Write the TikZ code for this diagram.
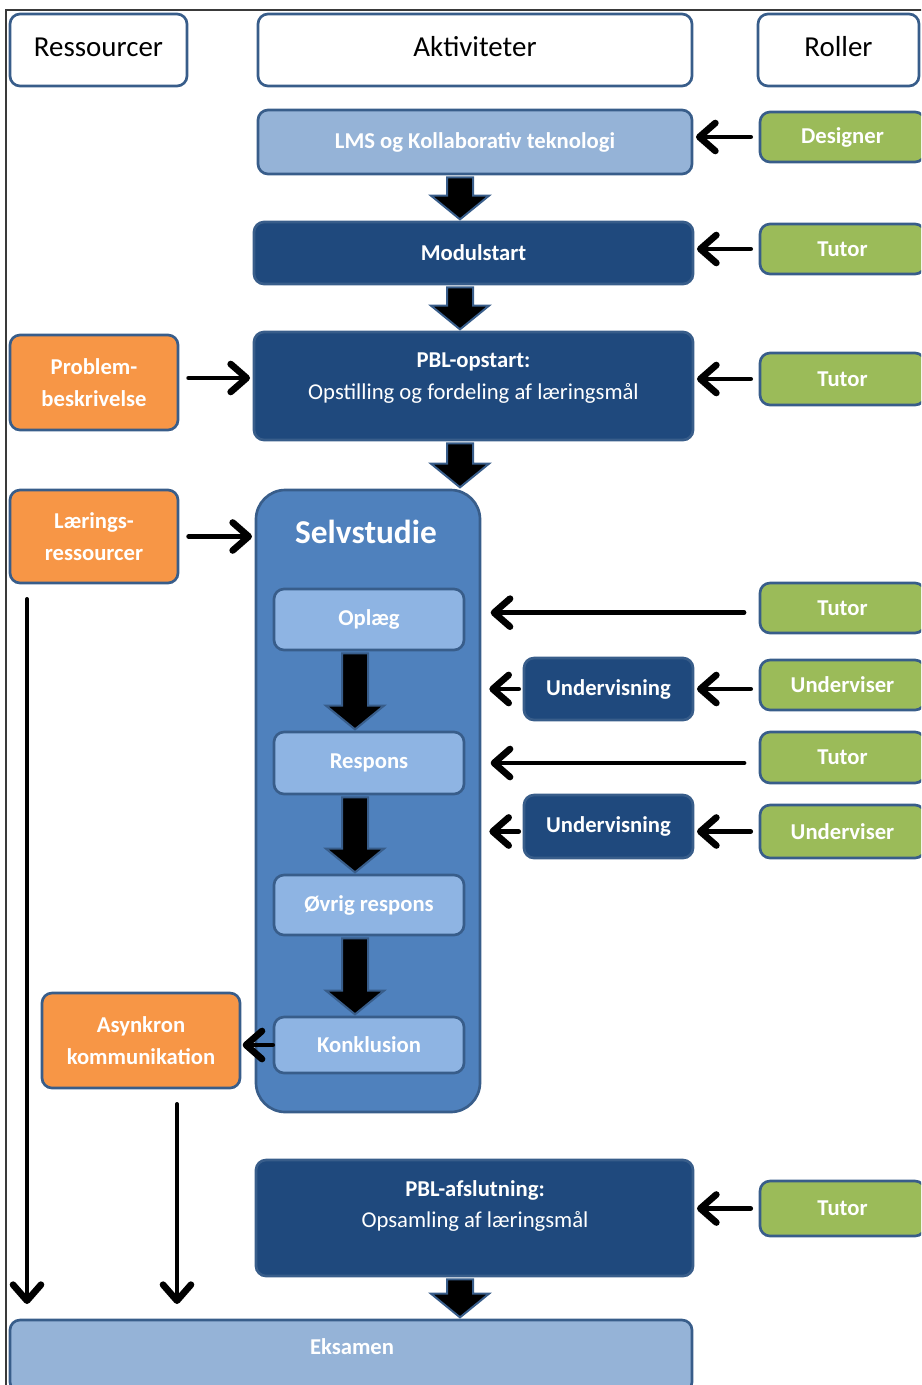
\documentclass[tikz,border=0pt]{standalone}
\usepackage{fontspec}
\setmainfont{Carlito}
\usetikzlibrary{arrows.meta,calc}

\definecolor{edge}{HTML}{385D8A}
\definecolor{navy}{HTML}{1F497D}
\definecolor{pale}{HTML}{95B3D7}
\definecolor{mid}{HTML}{4F81BD}
\definecolor{sub}{HTML}{8EB4E3}
\definecolor{leaf}{HTML}{9BBB59}
\definecolor{amber}{HTML}{F79646}
\definecolor{framec}{HTML}{3A3A3A}

\tikzset{
  sz/.style 2 args={minimum width=#1*0.75pt, minimum height=#2*0.75pt},
  base/.style={draw=edge, line width=2pt, rounded corners=7.5pt, inner sep=0pt,
    text=white, align=center, font=\bfseries\fontsize{17}{23.5}\selectfont},
  headbox/.style={base, fill=white, text=black, font=\fontsize{21.7}{26}\selectfont,
    text height=16pt, text depth=6pt},
  lightbox/.style={base, fill=pale},
  darkbox/.style={base, fill=navy},
  rolebox/.style={base, fill=leaf},
  resbox/.style={base, fill=amber},
  stepbox/.style={base, fill=sub},
  groupbox/.style={base, fill=mid, rounded corners=22pt},
  txt/.style={inner sep=0pt, text=white, align=center, font=\fontsize{17}{23.5}\selectfont},
  linkarrow/.style={line width=3.6pt, line cap=round,
    -{Straight Barb[length=12pt,width=21pt,line width=5pt,round]}},
  blockarrow/.style={fill=black, draw=edge, line width=1.5pt, line join=miter},
}

% thick block arrow from the bottom of #2 to the top of #3, at pixel column #1
\newcommand\blockarr[3]{%
  \filldraw[blockarrow] let \p3=(#1,0), \p1=(#2.south), \p2=(#3.north) in
    (\x3-9.75pt,\y1-1.5pt) -- (\x3+9.75pt,\y1-1.5pt) -- (\x3+9.75pt,\y2+18.75pt)
    -- (\x3+21.75pt,\y2+18.75pt) -- (\x3,\y2+1pt) -- (\x3-21.75pt,\y2+18.75pt)
    -- (\x3-9.75pt,\y2+18.75pt) -- cycle;}

\begin{document}
\begin{tikzpicture}[x=0.75pt,y=-0.75pt]
\useasboundingbox (0,0) rectangle (921,1385);
\clip (0,0) rectangle (921,1385);

% outer frame
\draw[framec, line width=1pt] (6,1390) -- (6,10) -- (925,10);

% column headers
\node[headbox, sz={177}{72}] (res) at (98.5,50) {Ressourcer};
\node[headbox, sz={434}{72}] (akt) at (475,50) {Aktiviteter};
\node[headbox, sz={161}{72}] (rol) at (838.5,50) {Roller};

% activities
\node[lightbox, sz={434}{64}] (lms) at (475,142) {LMS og Kollaborativ teknologi};
\node[darkbox, sz={439}{62}] (mod) at (473.5,253) {Modulstart};
\node[darkbox, sz={439}{108}] (pbl) at (473.5,386) {};
\node[txt] (pbltxt) at (473.5,378) {\textbf{PBL-opstart:}\\Opstilling og fordeling af læringsmål};

\node[groupbox, sz={224}{622}] (selv) at (368,801) {};
\node[txt, font=\bfseries\fontsize{25}{30}\selectfont] (selvtxt) at (366,532) {Selvstudie};
\node[stepbox, sz={190}{61}] (opl) at (369,619.5) {Oplæg};
\node[stepbox, sz={190}{62}] (resp) at (369,763) {Respons};
\node[stepbox, sz={190}{60}] (ovr) at (369,905) {Øvrig respons};
\node[stepbox, sz={190}{56}] (konk) at (369,1045) {Konklusion};

\node[darkbox, sz={169}{62}] (und1) at (608.5,689) {Undervisning};
\node[darkbox, sz={169}{63}] (und2) at (608.5,826.5) {Undervisning};

\node[darkbox, sz={437}{116}] (afs) at (474.5,1218) {};
\node[txt] (afstxt) at (475,1206) {\textbf{PBL-afslutning:}\\Opsamling af læringsmål};

\node[lightbox, sz={682}{72}] (eks) at (351,1356) {};
\node[txt, font=\bfseries\fontsize{17}{23.5}\selectfont] (ekstxt) at (352,1347) {Eksamen};

% resources
\node[resbox, sz={168}{95}] (prob) at (94,382.5) {Problem-\\beskrivelse};
\node[resbox, sz={168}{93}] (lr) at (94,536.5) {Lærings-\\ressourcer};
\node[resbox, sz={198}{95}] (asyn) at (141,1040.5) {Asynkron\\kommunikation};

% roles
\node[rolebox, sz={165}{50}] (des) at (842.5,137) {Designer};
\node[rolebox, sz={165}{50}] (tut1) at (842.5,249) {Tutor};
\node[rolebox, sz={165}{52}] (tut2) at (842.5,379) {Tutor};
\node[rolebox, sz={165}{50}] (tut3) at (842.5,608) {Tutor};
\node[rolebox, sz={165}{50}] (uv1) at (842.5,685) {Underviser};
\node[rolebox, sz={165}{51}] (tut4) at (842.5,757.5) {Tutor};
\node[rolebox, sz={165}{53}] (uv2) at (842.5,831.5) {Underviser};
\node[rolebox, sz={165}{55}] (tut5) at (842.5,1208.5) {Tutor};

% column anchors for the vertical links
\coordinate (colA) at (27,0);
\coordinate (colB) at (177,0);

% block arrows along the main flow
\blockarr{460}{lms}{mod}
\blockarr{460}{mod}{pbl}
\blockarr{460}{pbl}{selv}
\blockarr{355}{opl}{resp}
\blockarr{355}{resp}{ovr}
\blockarr{355}{ovr}{konk}
\blockarr{460}{afs}{eks}

% role links
\draw[linkarrow, shorten <=6pt, shorten >=2pt] (des.west) -- (des.west -| lms.east);
\draw[linkarrow, shorten <=6pt, shorten >=2pt] (tut1.west) -- (tut1.west -| mod.east);
\draw[linkarrow, shorten <=6pt, shorten >=2pt] (tut2.west) -- (tut2.west -| pbl.east);
\draw[linkarrow, shorten <=11pt, shorten >=7pt] ([yshift=-3.5pt]tut3.west) -- ([yshift=-3.5pt]tut3.west -| selv.east);
\draw[linkarrow, shorten <=6pt, shorten >=2pt] (uv1.west |- und1.east) -- (und1.east);
\draw[linkarrow, shorten <=3pt, shorten >=6pt] (und1.west) -- (und1.west -| selv.east);
\draw[linkarrow, shorten <=11pt, shorten >=7pt] (tut4.west |- resp.east) -- (resp.east -| selv.east);
\draw[linkarrow, shorten <=6pt, shorten >=2pt] (uv2.west) -- (uv2.west -| und2.east);
\draw[linkarrow, shorten <=3pt, shorten >=6pt] (und2.west |- uv2.west) -- (uv2.west -| selv.east);
\draw[linkarrow, shorten <=6pt, shorten >=2pt] (tut5.west) -- (tut5.west -| afs.east);

% resource links
\draw[linkarrow, shorten <=7pt, shorten >=2pt] (prob.east |- pbltxt) -- (pbltxt -| pbl.west);
\draw[linkarrow, shorten <=7pt, shorten >=2pt] (lr.east) -- (lr.east -| selv.west);
\draw[linkarrow, shorten >=1pt] (konk.west) -- (konk.west -| asyn.east);
\draw[linkarrow, line width=3pt, shorten <=11pt, shorten >=11pt] (lr.south -| colA) -- (eks.north -| colA);
\draw[linkarrow, line width=3pt, shorten <=11pt, shorten >=11pt] (asyn.south -| colB) -- (eks.north -| colB);
\end{tikzpicture}
\end{document}
